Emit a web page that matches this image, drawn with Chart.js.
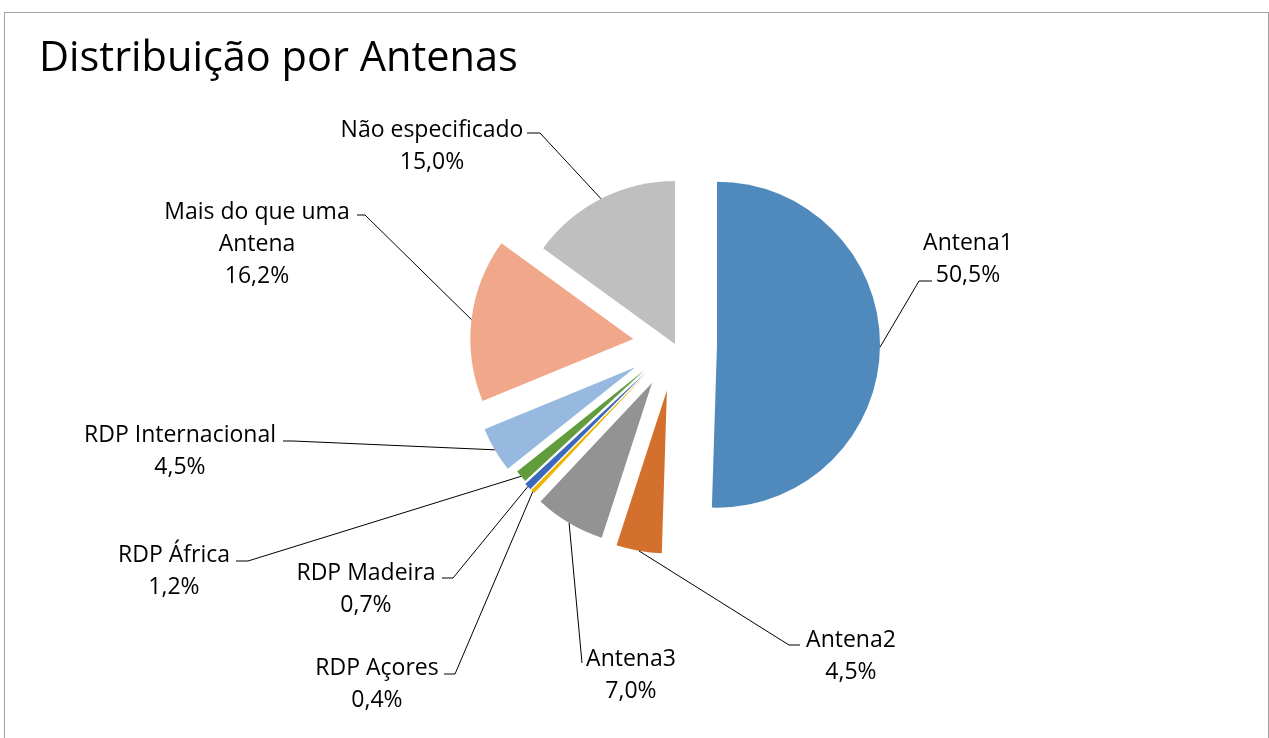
<!DOCTYPE html>
<html>
<head>
<meta charset="utf-8">
<script src="https://cdn.jsdelivr.net/npm/chart.js@4"></script>
<style>
  html, body { margin: 0; padding: 0; background: #fff; overflow: hidden; }
  #frame { position: absolute; left: 4px; top: 12px; width: 1263px; height: 760px;
           border: 1px solid #a0a0a0; border-bottom: none; }
  canvas { position: absolute; left: 0; top: 0; }
</style>
</head>
<body>
<div id="frame"></div>
<canvas id="antenasChart" width="1269" height="738"></canvas>
<script>
// Distribuição por Antenas - gráfico circular destacado

const categories = ["Antena1", "Antena2", "Antena3", "RDP Açores", "RDP Madeira",
  "RDP África", "RDP Internacional", "Mais do que uma Antena", "Não especificado"];
const shares = [50.5, 4.5, 7.0, 0.4, 0.7, 1.2, 4.5, 16.2, 15.0];
const shareLabels = ["50,5%", "4,5%", "7,0%", "0,4%", "0,7%", "1,2%", "4,5%", "16,2%", "15,0%"];

const colors = ["#508abd", "#d3702e", "#939393", "#eeb400", "#3c69bb",
  "#629c3d", "#97b9e0", "#f1a88a", "#bfbfbf"];
// distance each slice is pulled out from the centre
const explode = [42, 47, 45, 42, 42, 40, 46, 42, 0];

// label text lines and where they sit
const labelLines = [
  ["Antena1"], ["Antena2"], ["Antena3"], ["RDP Açores"], ["RDP Madeira"],
  ["RDP África"], ["RDP Internacional"], ["Mais do que uma", "Antena"], ["Não especificado"]
];
const labelPos = [[968, 243], [851, 640], [631, 659], [377, 668], [366, 573],
  [174, 555], [180, 435], [257, 212], [432, 130]];
// leader line: elbow point then short horizontal end
const leaderElbow = [[919, 281], [789, 645], [582, 663], [455, 674], [453, 578],
  [248, 561], [293, 441], [365, 215], [540, 133]];
const leaderEnd = [[932, 281], [800, 645], [582, 663], [444, 674], [442, 578],
  [236, 561], [283, 441], [357, 215], [527, 133]];

const FONT = "'Open Sans', Lato, sans-serif";
const LINE_H = 32;

function arcPoint(el, i) {
  const mid = (el.startAngle + el.endAngle) / 2;
  const r = el.outerRadius + explode[i];
  return [el.x + Math.cos(mid) * r, el.y + Math.sin(mid) * r];
}

const explodedPie = {
  id: "explodedPie",
  beforeDatasetDraw(chart, args) {
    const ctx = chart.ctx;
    args.meta.data.forEach((el, i) => {
      const mid = (el.startAngle + el.endAngle) / 2;
      const cx = el.x + Math.cos(mid) * explode[i];
      const cy = el.y + Math.sin(mid) * explode[i];
      ctx.save();
      ctx.beginPath();
      ctx.moveTo(cx, cy);
      ctx.arc(cx, cy, el.outerRadius, el.startAngle, el.endAngle);
      ctx.closePath();
      ctx.fillStyle = el.options.backgroundColor;
      ctx.fill();
      ctx.restore();
    });
    return false;
  },
  afterDatasetsDraw(chart) {
    const ctx = chart.ctx;
    const meta = chart.getDatasetMeta(0);
    ctx.save();
    // leader lines
    ctx.strokeStyle = "#000";
    ctx.lineWidth = 1;
    meta.data.forEach((el, i) => {
      const p = arcPoint(el, i);
      ctx.beginPath();
      ctx.moveTo(p[0], p[1]);
      ctx.lineTo(leaderElbow[i][0], leaderElbow[i][1]);
      ctx.lineTo(leaderEnd[i][0], leaderEnd[i][1]);
      ctx.stroke();
    });
    // labels
    ctx.fillStyle = "#000";
    ctx.font = "23px " + FONT;
    ctx.textAlign = "center";
    ctx.textBaseline = "middle";
    categories.forEach((c, i) => {
      const lines = labelLines[i].concat([shareLabels[i]]);
      lines.forEach((t, k) => {
        ctx.fillText(t, labelPos[i][0], labelPos[i][1] + k * LINE_H);
      });
    });
    // title
    ctx.font = "41.5px " + FONT;
    ctx.textAlign = "left";
    ctx.textBaseline = "alphabetic";
    ctx.fillText("Distribuição por Antenas", 39, 71);
    ctx.restore();
  }
};

const ctx = document.getElementById("antenasChart").getContext("2d");
new Chart(ctx, {
  type: "pie",
  data: {
    labels: categories,
    datasets: [{
      data: shares,
      backgroundColor: colors,
      borderWidth: 0
    }]
  },
  options: {
    responsive: false,
    animation: false,
    radius: 163,
    layout: { padding: { left: 400, right: 319, top: 100, bottom: 150 } },
    plugins: {
      legend: { display: false },
      tooltip: { enabled: false }
    }
  },
  plugins: [explodedPie]
});
</script>
</body>
</html>
